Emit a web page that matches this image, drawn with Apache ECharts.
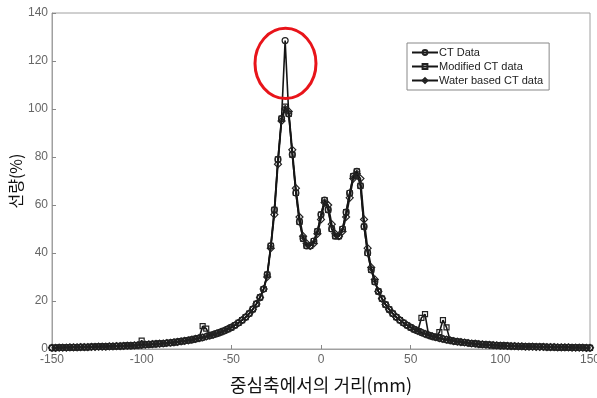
<!DOCTYPE html>
<html>
<head>
<meta charset="utf-8">
<script src="https://cdn.jsdelivr.net/npm/echarts@6/dist/echarts.min.js"></script>
<style>
html,body{margin:0;padding:0;background:#fff;}
#c{width:597px;height:398px;}
</style>
</head>
<body>
<div id="c"></div>
<script>
const xs = [-150,-148,-146,-144,-142,-140,-138,-136,-134,-132,-130,-128,-126,-124,-122,-120,-118,-116,-114,-112,-110,-108,-106,-104,-102,-100,-98,-96,-94,-92,-90,-88,-86,-84,-82,-80,-78,-76,-74,-72,-70,-68,-66,-64,-62,-60,-58,-56,-54,-52,-50,-48,-46,-44,-42,-40,-38,-36,-34,-32,-30,-28,-26,-24,-22,-20,-18,-16,-14,-12,-10,-8,-6,-4,-2,0,2,4,6,8,10,12,14,16,18,20,22,24,26,28,30,32,34,36,38,40,42,44,46,48,50,52,54,56,58,60,62,64,66,68,70,72,74,76,78,80,82,84,86,88,90,92,94,96,98,100,102,104,106,108,110,112,114,116,118,120,122,124,126,128,130,132,134,136,138,140,142,144,146,148,150];

const ctData = [0.5,0.5,0.6,0.6,0.6,0.7,0.7,0.7,0.8,0.8,
0.8,0.9,0.9,1.0,1.0,1.0,1.1,1.1,1.2,1.2,
1.3,1.4,1.4,1.5,1.6,1.7,1.8,1.9,2.0,2.1,
2.2,2.3,2.5,2.6,2.8,3.0,3.2,3.4,3.6,3.9,
4.2,4.5,4.8,5.2,5.6,6.0,6.5,7.0,7.6,8.3,
9.0,9.9,10.9,12.0,13.3,14.8,16.6,18.8,21.5,25.0,
31,43,58,79,96,128.5,98,81,65,53,
46,43,43,45,49,56,62,58,50,47,
47,50,57,65,72,74,68,51,40,33,28,
24,21,18.5,16.5,14.8,13.3,12.0,10.9,9.9,9.0,
8.2,7.5,6.9,6.3,5.8,5.3,4.9,4.5,4.2,3.9,
3.6,3.3,3.1,2.9,2.7,2.5,2.3,2.2,2.0,1.9,
1.8,1.7,1.6,1.5,1.4,1.4,1.3,1.2,1.2,1.1,
1.1,1.0,1.0,1.0,0.9,0.9,0.9,0.8,0.8,0.8,
0.7,0.7,0.7,0.7,0.6,0.6,0.6,0.6,0.5,0.5];

const modifiedData = [0.5,0.5,0.6,0.6,0.6,0.7,0.7,0.7,0.8,0.8,
0.8,0.9,0.9,1.0,1.0,1.0,1.1,1.1,1.2,1.2,
1.3,1.4,1.4,1.5,1.6,3.5,1.8,1.9,2.0,2.1,
2.2,2.3,2.5,2.6,2.8,3.0,3.2,3.4,3.6,3.9,
4.2,4.5,9.5,8.5,5.6,6.0,6.5,7.0,7.6,8.3,
9.0,9.9,10.9,12.0,13.3,14.8,16.6,18.8,21.5,25.0,
31,43,58,79,96,101,98,81,65,53,
46,43,43,45,49,56,62,58,50,47,
47,50,57,65,72,74,68,51,40,33,28,
24,21,18.5,16.5,14.8,13.3,12.0,10.9,9.9,9.0,
8.2,7.5,13,14.5,5.8,5.3,4.9,7,12,9,
3.6,3.3,3.1,2.9,2.7,2.5,2.3,2.2,2.0,1.9,
1.8,1.7,1.6,1.5,1.4,1.4,1.3,1.2,1.2,1.1,
1.1,1.0,1.0,1.0,0.9,0.9,0.9,0.8,0.8,0.8,
0.7,0.7,0.7,0.7,0.6,0.6,0.6,0.6,0.5,0.5];

const waterData = [0.5,0.5,0.6,0.6,0.6,0.7,0.7,0.7,0.8,0.8,
0.8,0.9,0.9,1.0,1.0,1.0,1.1,1.1,1.2,1.2,
1.3,1.4,1.4,1.5,1.6,1.7,1.8,1.9,2.0,2.1,
2.2,2.3,2.5,2.6,2.8,3.0,3.2,3.4,3.6,3.9,
4.2,4.5,4.8,5.2,5.6,6.0,6.5,7.0,7.6,8.3,
9.0,9.9,10.9,12.0,13.3,14.8,16.6,18.8,21.5,25.0,
30,42,56,77,95,100,99,83,67,55,
47,44,43,44,48,54,61,60,52,48,
47,49,55,63,71,73,71,54,42,34,29,
24,21,18.5,16.5,14.8,13.3,12.0,10.9,9.9,9.0,
8.2,7.5,6.9,6.3,5.8,5.3,4.9,4.5,4.2,3.9,
3.6,3.3,3.1,2.9,2.7,2.5,2.3,2.2,2.0,1.9,
1.8,1.7,1.6,1.5,1.4,1.4,1.3,1.2,1.2,1.1,
1.1,1.0,1.0,1.0,0.9,0.9,0.9,0.8,0.8,0.8,
0.7,0.7,0.7,0.7,0.6,0.6,0.6,0.6,0.5,0.5];

const seriesNames = ['CT Data','Modified CT data','Water based CT data'];
const xTicks = {min:-150, max:150, interval:50};
const yTicks = {min:0, max:140, interval:20};

const pair = arr => xs.map((x,i)=>[x, arr[i]]);
const axisGray = '#a0a0a0';
const labelFont = 'Liberation Sans, Arial, sans-serif';

function mkSeries(name, arr, symbol, size){
  return {
    name, type:'line', data: pair(arr), symbol, symbolSize:size,
    showAllSymbol:true,
    lineStyle:{color:'#151515', width:1.6},
    itemStyle:{color:'rgba(0,0,0,0)', borderColor:'#222', borderWidth:1.2},
    emphasis:{disabled:true},
    z: 2
  };
}

const chart = echarts.init(document.getElementById('c'), null, {renderer:'canvas'});
chart.setOption({
  animation:false,
  backgroundColor:'#fff',
  grid:{left:52, right:7, top:13, bottom:49, containLabel:false, outerBoundsMode:'none',
        show:true, borderColor:axisGray, borderWidth:1},
  legend:{
    data: seriesNames,
    orient:'vertical', left:407, top:43,
    itemWidth:26, itemHeight:6, itemGap:3,
    padding:[4,6,4,4],
    borderColor:'#888', borderWidth:1, backgroundColor:'#fff',
    textStyle:{fontSize:11, color:'#222', fontFamily:labelFont, padding:[0,0,0,-4]}
  },
  xAxis:{
    type:'value', min:xTicks.min, max:xTicks.max, interval:xTicks.interval,
    name:'중심축에서의 거리(mm)', nameLocation:'middle', nameGap:27,
    nameTextStyle:{fontSize:18, color:'#111', fontFamily:'Noto Sans CJK KR'},
    axisLine:{show:true, onZero:false, lineStyle:{color:axisGray}},
    axisTick:{show:true, inside:true, length:4, lineStyle:{color:'#888'}},
    axisLabel:{fontSize:12, color:'#666', margin:5, fontFamily:labelFont},
    splitLine:{show:false}
  },
  yAxis:{
    type:'value', min:yTicks.min, max:yTicks.max, interval:yTicks.interval,
    name:'선량(%)', nameLocation:'middle', nameGap:28, nameRotate:90, nameMoveOverlap:false,
    nameTextStyle:{fontSize:16, color:'#111', fontFamily:'Noto Sans CJK KR'},
    axisLine:{show:true, onZero:false, lineStyle:{color:axisGray}},
    axisTick:{show:true, inside:true, length:4, lineStyle:{color:'#888'}},
    axisLabel:{fontSize:12, color:'#666', margin:4, fontFamily:labelFont},
    splitLine:{show:false}
  },
  series:[
    mkSeries(seriesNames[0], ctData, 'circle', 6),
    mkSeries(seriesNames[1], modifiedData, 'rect', 5),
    mkSeries(seriesNames[2], waterData, 'diamond', 7)
  ]
});

// red ellipse annotation around the CT spike, positioned in data coordinates
const ellC = chart.convertToPixel({gridIndex:0}, [-19.8, 119]);
const ellE = chart.convertToPixel({gridIndex:0}, [-2.8, 104.4]);
chart.setOption({
  graphic:[{
    type:'ellipse', z:100,
    shape:{cx:ellC[0], cy:ellC[1], rx:Math.abs(ellE[0]-ellC[0]), ry:Math.abs(ellE[1]-ellC[1])},
    style:{fill:'none', stroke:'#e8141a', lineWidth:3}
  }]
});
</script>
</body>
</html>
